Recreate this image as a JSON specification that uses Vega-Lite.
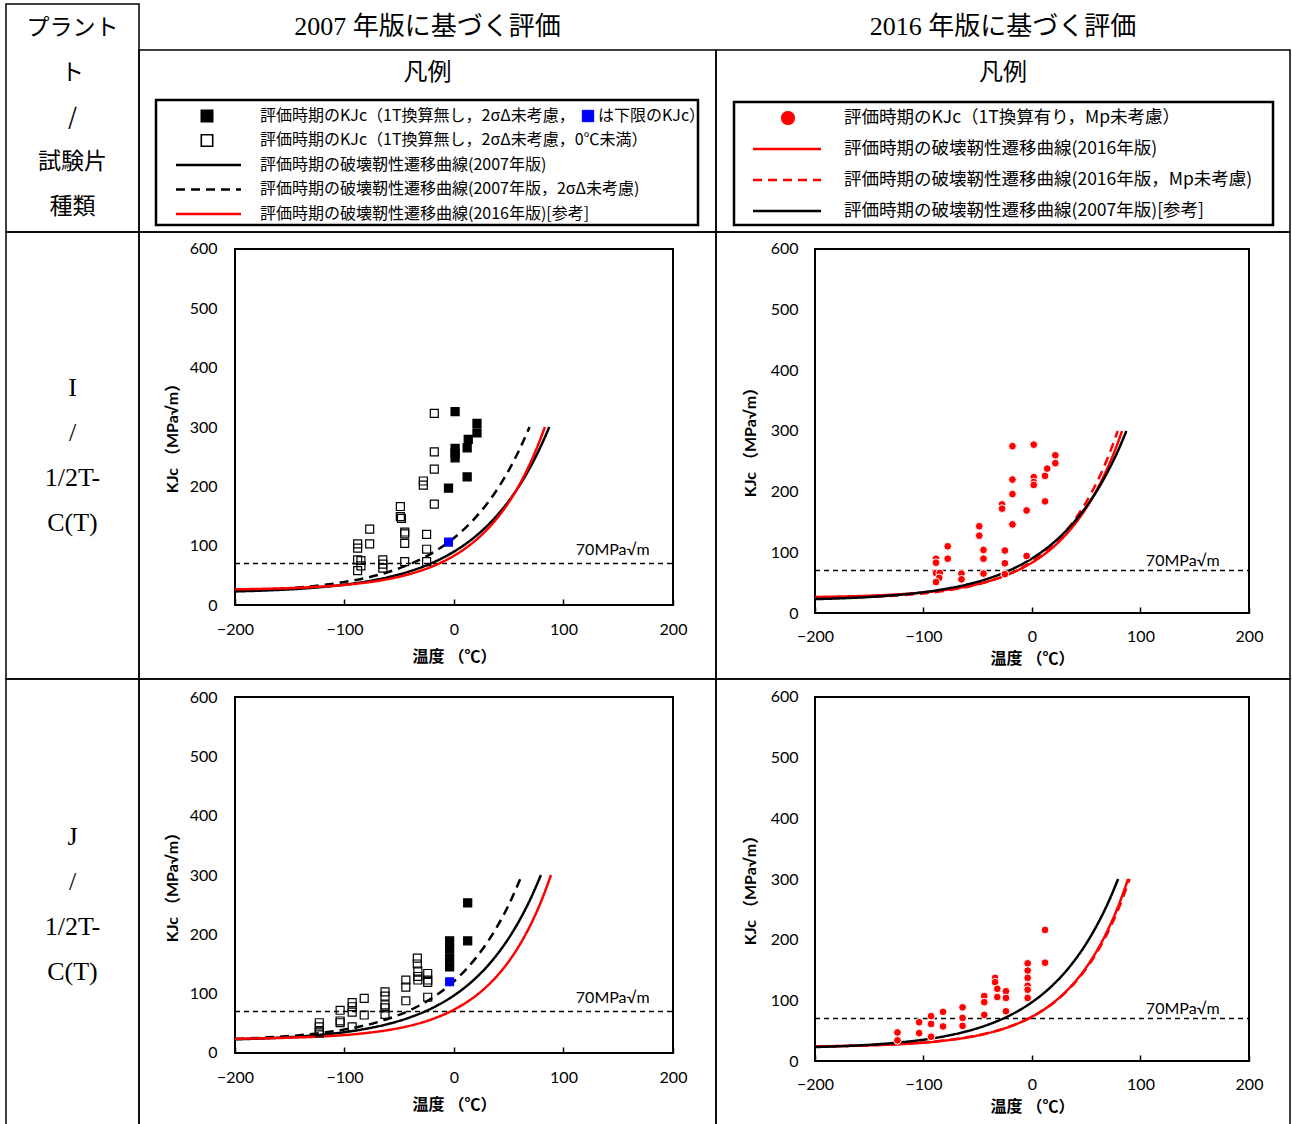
{
"$schema":"https://vega.github.io/schema/vega-lite/v6.json",
"background":"white",
"padding":{"left":5,"top":3,"right":0,"bottom":0},
"spacing":0,
"bounds":"flush",
"columns":3,
"config":{
 "view":{"stroke":"black","strokeWidth":1.5},
 "legend":{"disable":true},
 "axis":{"grid":false,"domain":false,"labelFont":"Lato","labelFontSize":16,"labelColor":"black","titleFont":"Lato, Noto Sans CJK JP","titleFontSize":16,"titleFontWeight":"bold","titleColor":"black","tickColor":"black"},
 "text":{"color":"black"}
},
"datasets":{
 "curves":[
  {"c":"I07","s":"2007","T":-200,"K":22.9},{"c":"I07","s":"2007","T":-175,"K":24.3},{"c":"I07","s":"2007","T":-150,"K":26.4},{"c":"I07","s":"2007","T":-125,"K":29.6},{"c":"I07","s":"2007","T":-100,"K":34.2},{"c":"I07","s":"2007","T":-80,"K":39.6},{"c":"I07","s":"2007","T":-60,"K":46.9},{"c":"I07","s":"2007","T":-40,"K":57.0},{"c":"I07","s":"2007","T":-20,"K":70.9},{"c":"I07","s":"2007","T":0,"K":90.0},{"c":"I07","s":"2007","T":10,"K":102.1},{"c":"I07","s":"2007","T":20,"K":116.3},{"c":"I07","s":"2007","T":30,"K":132.9},{"c":"I07","s":"2007","T":40,"K":152.4},{"c":"I07","s":"2007","T":50,"K":175.2},{"c":"I07","s":"2007","T":60,"K":202.0},{"c":"I07","s":"2007","T":70,"K":233.5},{"c":"I07","s":"2007","T":80,"K":270.4},{"c":"I07","s":"2007","T":87,"K":300},
  {"c":"I07d","s":"2007_no2s","T":-200,"K":23.8},{"c":"I07d","s":"2007_no2s","T":-175,"K":25.7},{"c":"I07d","s":"2007_no2s","T":-150,"K":28.4},{"c":"I07d","s":"2007_no2s","T":-125,"K":32.6},{"c":"I07d","s":"2007_no2s","T":-100,"K":38.8},{"c":"I07d","s":"2007_no2s","T":-80,"K":45.9},{"c":"I07d","s":"2007_no2s","T":-60,"K":55.6},{"c":"I07d","s":"2007_no2s","T":-40,"K":69.0},{"c":"I07d","s":"2007_no2s","T":-20,"K":87.5},{"c":"I07d","s":"2007_no2s","T":0,"K":113},{"c":"I07d","s":"2007_no2s","T":10,"K":129.1},{"c":"I07d","s":"2007_no2s","T":20,"K":148.1},{"c":"I07d","s":"2007_no2s","T":30,"K":170.3},{"c":"I07d","s":"2007_no2s","T":40,"K":196.4},{"c":"I07d","s":"2007_no2s","T":50,"K":227.0},{"c":"I07d","s":"2007_no2s","T":60,"K":262.9},{"c":"I07d","s":"2007_no2s","T":69,"K":300},
  {"c":"I16","s":"2016","T":-200,"K":26.4},{"c":"I16","s":"2016","T":-175,"K":27.2},{"c":"I16","s":"2016","T":-150,"K":28.5},{"c":"I16","s":"2016","T":-125,"K":30.6},{"c":"I16","s":"2016","T":-100,"K":33.9},{"c":"I16","s":"2016","T":-80,"K":37.9},{"c":"I16","s":"2016","T":-60,"K":43.8},{"c":"I16","s":"2016","T":-40,"K":52.4},{"c":"I16","s":"2016","T":-20,"K":64.9},{"c":"I16","s":"2016","T":0,"K":83},{"c":"I16","s":"2016","T":10,"K":95.0},{"c":"I16","s":"2016","T":20,"K":109.4},{"c":"I16","s":"2016","T":30,"K":126.8},{"c":"I16","s":"2016","T":40,"K":147.8},{"c":"I16","s":"2016","T":50,"K":173.1},{"c":"I16","s":"2016","T":60,"K":203.7},{"c":"I16","s":"2016","T":70,"K":240.5},{"c":"I16","s":"2016","T":80,"K":284.9},{"c":"I16","s":"2016","T":83,"K":300},
  {"c":"I16d","s":"2016_noMp","T":-200,"K":24.4},{"c":"I16d","s":"2016_noMp","T":-175,"K":25.3},{"c":"I16d","s":"2016_noMp","T":-150,"K":26.6},{"c":"I16d","s":"2016_noMp","T":-125,"K":28.8},{"c":"I16d","s":"2016_noMp","T":-100,"K":32.3},{"c":"I16d","s":"2016_noMp","T":-80,"K":36.6},{"c":"I16d","s":"2016_noMp","T":-60,"K":42.9},{"c":"I16d","s":"2016_noMp","T":-40,"K":52.1},{"c":"I16d","s":"2016_noMp","T":-20,"K":65.4},{"c":"I16d","s":"2016_noMp","T":0,"K":85},{"c":"I16d","s":"2016_noMp","T":10,"K":97.9},{"c":"I16d","s":"2016_noMp","T":20,"K":113.6},{"c":"I16d","s":"2016_noMp","T":30,"K":132.5},{"c":"I16d","s":"2016_noMp","T":40,"K":155.3},{"c":"I16d","s":"2016_noMp","T":50,"K":182.9},{"c":"I16d","s":"2016_noMp","T":60,"K":216.3},{"c":"I16d","s":"2016_noMp","T":70,"K":256.6},{"c":"I16d","s":"2016_noMp","T":79,"K":300},
  {"c":"J07","s":"2007","T":-200,"K":23.0},{"c":"J07","s":"2007","T":-175,"K":24.5},{"c":"J07","s":"2007","T":-150,"K":26.7},{"c":"J07","s":"2007","T":-125,"K":30.1},{"c":"J07","s":"2007","T":-100,"K":35.1},{"c":"J07","s":"2007","T":-80,"K":41.0},{"c":"J07","s":"2007","T":-60,"K":49.0},{"c":"J07","s":"2007","T":-40,"K":60.2},{"c":"J07","s":"2007","T":-20,"K":75.6},{"c":"J07","s":"2007","T":0,"K":97},{"c":"J07","s":"2007","T":10,"K":110.6},{"c":"J07","s":"2007","T":20,"K":126.6},{"c":"J07","s":"2007","T":30,"K":145.4},{"c":"J07","s":"2007","T":40,"K":167.6},{"c":"J07","s":"2007","T":50,"K":193.6},{"c":"J07","s":"2007","T":60,"K":224.3},{"c":"J07","s":"2007","T":70,"K":260.3},{"c":"J07","s":"2007","T":79.4,"K":300},
  {"c":"J07d","s":"2007_no2s","T":-200,"K":23.8},{"c":"J07d","s":"2007_no2s","T":-175,"K":25.7},{"c":"J07d","s":"2007_no2s","T":-150,"K":28.6},{"c":"J07d","s":"2007_no2s","T":-125,"K":32.9},{"c":"J07d","s":"2007_no2s","T":-100,"K":39.5},{"c":"J07d","s":"2007_no2s","T":-80,"K":47.1},{"c":"J07d","s":"2007_no2s","T":-60,"K":57.7},{"c":"J07d","s":"2007_no2s","T":-40,"K":72.3},{"c":"J07d","s":"2007_no2s","T":-20,"K":92.7},{"c":"J07d","s":"2007_no2s","T":0,"K":121},{"c":"J07d","s":"2007_no2s","T":10,"K":139},{"c":"J07d","s":"2007_no2s","T":20,"K":160.3},{"c":"J07d","s":"2007_no2s","T":30,"K":185.4},{"c":"J07d","s":"2007_no2s","T":40,"K":214.9},{"c":"J07d","s":"2007_no2s","T":50,"K":249.8},{"c":"J07d","s":"2007_no2s","T":62,"K":300},
  {"c":"J16","s":"2016","T":-200,"K":24.0},{"c":"J16","s":"2016","T":-175,"K":24.7},{"c":"J16","s":"2016","T":-150,"K":25.8},{"c":"J16","s":"2016","T":-125,"K":27.5},{"c":"J16","s":"2016","T":-100,"K":30.2},{"c":"J16","s":"2016","T":-80,"K":33.7},{"c":"J16","s":"2016","T":-60,"K":38.7},{"c":"J16","s":"2016","T":-40,"K":46.1},{"c":"J16","s":"2016","T":-20,"K":57.0},{"c":"J16","s":"2016","T":0,"K":73},{"c":"J16","s":"2016","T":10,"K":83.7},{"c":"J16","s":"2016","T":20,"K":96.6},{"c":"J16","s":"2016","T":30,"K":112.3},{"c":"J16","s":"2016","T":40,"K":131.3},{"c":"J16","s":"2016","T":50,"K":154.4},{"c":"J16","s":"2016","T":60,"K":182.4},{"c":"J16","s":"2016","T":70,"K":216.3},{"c":"J16","s":"2016","T":80,"K":257.5},{"c":"J16","s":"2016","T":88.6,"K":300},
  {"c":"J16d","s":"2016_noMp","T":-200,"K":24.1},{"c":"J16d","s":"2016_noMp","T":-150,"K":25.9},{"c":"J16d","s":"2016_noMp","T":-100,"K":30.5},{"c":"J16d","s":"2016_noMp","T":-80,"K":33.9},{"c":"J16d","s":"2016_noMp","T":-60,"K":39.0},{"c":"J16d","s":"2016_noMp","T":-40,"K":46.4},{"c":"J16d","s":"2016_noMp","T":-20,"K":57.2},{"c":"J16d","s":"2016_noMp","T":0,"K":73},{"c":"J16d","s":"2016_noMp","T":10,"K":83.5},{"c":"J16d","s":"2016_noMp","T":20,"K":96.1},{"c":"J16d","s":"2016_noMp","T":30,"K":111.5},{"c":"J16d","s":"2016_noMp","T":40,"K":130},{"c":"J16d","s":"2016_noMp","T":50,"K":152.4},{"c":"J16d","s":"2016_noMp","T":60,"K":179.5},{"c":"J16d","s":"2016_noMp","T":70,"K":212.3},{"c":"J16d","s":"2016_noMp","T":80,"K":252},{"c":"J16d","s":"2016_noMp","T":90,"K":300}
 ],
 "points":[
  {"p":"IL","k":"hollow","T":-88,"K":103},{"p":"IL","k":"hollow","T":-88,"K":96},{"p":"IL","k":"hollow","T":-88,"K":76},{"p":"IL","k":"hollow","T":-85,"K":75},{"p":"IL","k":"hollow","T":-85,"K":66},{"p":"IL","k":"hollow","T":-88,"K":58},{"p":"IL","k":"hollow","T":-77,"K":128},{"p":"IL","k":"hollow","T":-77,"K":103},{"p":"IL","k":"hollow","T":-65,"K":76},{"p":"IL","k":"hollow","T":-65,"K":69},{"p":"IL","k":"hollow","T":-65,"K":62},{"p":"IL","k":"hollow","T":-49,"K":166},{"p":"IL","k":"hollow","T":-49,"K":149},{"p":"IL","k":"hollow","T":-48,"K":146},{"p":"IL","k":"hollow","T":-45,"K":123},{"p":"IL","k":"hollow","T":-45,"K":120},{"p":"IL","k":"hollow","T":-45,"K":104},{"p":"IL","k":"hollow","T":-45,"K":73},{"p":"IL","k":"hollow","T":-28,"K":209},{"p":"IL","k":"hollow","T":-28,"K":202},{"p":"IL","k":"hollow","T":-18,"K":323},{"p":"IL","k":"hollow","T":-18,"K":258},{"p":"IL","k":"hollow","T":-18,"K":229},{"p":"IL","k":"hollow","T":-18,"K":170},{"p":"IL","k":"hollow","T":-25,"K":119},{"p":"IL","k":"hollow","T":-25,"K":94},{"p":"IL","k":"hollow","T":-25,"K":73},
  {"p":"IL","k":"filled","T":1,"K":326},{"p":"IL","k":"filled","T":1,"K":264},{"p":"IL","k":"filled","T":1,"K":256},{"p":"IL","k":"filled","T":1,"K":248},{"p":"IL","k":"filled","T":-5,"K":197},{"p":"IL","k":"filled","T":12,"K":265},{"p":"IL","k":"filled","T":13,"K":279},{"p":"IL","k":"filled","T":12,"K":216},{"p":"IL","k":"filled","T":21,"K":306},{"p":"IL","k":"filled","T":21,"K":290},
  {"p":"IL","k":"blue","T":-5,"K":106},
  {"p":"IR","k":"red","T":-88.5,"K":89.5},{"p":"IR","k":"red","T":-88.5,"K":83},{"p":"IR","k":"red","T":-88.5,"K":66},{"p":"IR","k":"red","T":-85,"K":66},{"p":"IR","k":"red","T":-85.5,"K":58},{"p":"IR","k":"red","T":-88.5,"K":51},{"p":"IR","k":"red","T":-77.7,"K":110},{"p":"IR","k":"red","T":-77.7,"K":89.5},{"p":"IR","k":"red","T":-65,"K":65},{"p":"IR","k":"red","T":-65,"K":55.5},{"p":"IR","k":"red","T":-48.6,"K":143},{"p":"IR","k":"red","T":-48.6,"K":127.5},{"p":"IR","k":"red","T":-44.7,"K":104},{"p":"IR","k":"red","T":-44.7,"K":89.5},{"p":"IR","k":"red","T":-44.7,"K":65},{"p":"IR","k":"red","T":-27.6,"K":179},{"p":"IR","k":"red","T":-27.6,"K":172},{"p":"IR","k":"red","T":-25,"K":103},{"p":"IR","k":"red","T":-25,"K":82},{"p":"IR","k":"red","T":-25,"K":64},{"p":"IR","k":"red","T":-18,"K":275},{"p":"IR","k":"red","T":-18,"K":220},{"p":"IR","k":"red","T":-18,"K":196},{"p":"IR","k":"red","T":-18,"K":146},{"p":"IR","k":"red","T":-5,"K":169},{"p":"IR","k":"red","T":-5,"K":94},{"p":"IR","k":"red","T":1.6,"K":277.5},{"p":"IR","k":"red","T":1.6,"K":224},{"p":"IR","k":"red","T":1.6,"K":216},{"p":"IR","k":"red","T":1.6,"K":211},{"p":"IR","k":"red","T":12,"K":226},{"p":"IR","k":"red","T":14,"K":238},{"p":"IR","k":"red","T":12,"K":184},{"p":"IR","k":"red","T":21.5,"K":260},{"p":"IR","k":"red","T":21.5,"K":247},
  {"p":"JL","k":"hollow","T":-123,"K":51},{"p":"JL","k":"hollow","T":-123,"K":44},{"p":"JL","k":"hollow","T":-123,"K":37},{"p":"JL","k":"hollow","T":-123,"K":34},{"p":"JL","k":"hollow","T":-104,"K":72},{"p":"JL","k":"hollow","T":-104,"K":54},{"p":"JL","k":"hollow","T":-104,"K":51},{"p":"JL","k":"hollow","T":-93,"K":85},{"p":"JL","k":"hollow","T":-93,"K":78},{"p":"JL","k":"hollow","T":-93,"K":69},{"p":"JL","k":"hollow","T":-93,"K":44},{"p":"JL","k":"hollow","T":-82,"K":92},{"p":"JL","k":"hollow","T":-82,"K":64},{"p":"JL","k":"hollow","T":-63,"K":103},{"p":"JL","k":"hollow","T":-63,"K":96},{"p":"JL","k":"hollow","T":-63,"K":81},{"p":"JL","k":"hollow","T":-63,"K":76},{"p":"JL","k":"hollow","T":-63,"K":65},{"p":"JL","k":"hollow","T":-44,"K":123},{"p":"JL","k":"hollow","T":-44,"K":111},{"p":"JL","k":"hollow","T":-44,"K":88},{"p":"JL","k":"hollow","T":-33.5,"K":160},{"p":"JL","k":"hollow","T":-33.5,"K":150},{"p":"JL","k":"hollow","T":-33,"K":138},{"p":"JL","k":"hollow","T":-33,"K":129},{"p":"JL","k":"hollow","T":-33,"K":123},{"p":"JL","k":"hollow","T":-24,"K":134},{"p":"JL","k":"hollow","T":-24,"K":123},{"p":"JL","k":"hollow","T":-24,"K":119},{"p":"JL","k":"hollow","T":-24,"K":94},
  {"p":"JL","k":"filled","T":-4,"K":189},{"p":"JL","k":"filled","T":-4,"K":175},{"p":"JL","k":"filled","T":-4,"K":160},{"p":"JL","k":"filled","T":-4,"K":145},{"p":"JL","k":"filled","T":12.5,"K":253},{"p":"JL","k":"filled","T":12.5,"K":189},
  {"p":"JL","k":"blue","T":-4,"K":120},
  {"p":"JR","k":"red","T":-124,"K":47},{"p":"JR","k":"red","T":-124,"K":34},{"p":"JR","k":"red","T":-104,"K":64},{"p":"JR","k":"red","T":-104,"K":46},{"p":"JR","k":"red","T":-93,"K":74},{"p":"JR","k":"red","T":-93,"K":61},{"p":"JR","k":"red","T":-93,"K":40},{"p":"JR","k":"red","T":-82,"K":81},{"p":"JR","k":"red","T":-82,"K":57},{"p":"JR","k":"red","T":-64,"K":88.5},{"p":"JR","k":"red","T":-64,"K":71},{"p":"JR","k":"red","T":-64,"K":58},{"p":"JR","k":"red","T":-44,"K":107},{"p":"JR","k":"red","T":-44,"K":97},{"p":"JR","k":"red","T":-44,"K":76},{"p":"JR","k":"red","T":-34,"K":137},{"p":"JR","k":"red","T":-34,"K":130},{"p":"JR","k":"red","T":-32,"K":119},{"p":"JR","k":"red","T":-32,"K":105.5},{"p":"JR","k":"red","T":-24,"K":115},{"p":"JR","k":"red","T":-24,"K":104},{"p":"JR","k":"red","T":-24,"K":82},{"p":"JR","k":"red","T":-4,"K":161},{"p":"JR","k":"red","T":-4,"K":149},{"p":"JR","k":"red","T":-4,"K":137},{"p":"JR","k":"red","T":-4,"K":124},{"p":"JR","k":"red","T":-4,"K":117.5},{"p":"JR","k":"red","T":-4,"K":104},{"p":"JR","k":"red","T":12,"K":216},{"p":"JR","k":"red","T":12,"K":162}
 ],
 "legL":[
  {"row":1,"k":"filled","label":"評価時期のKJc（1T換算無し，2σΔ未考慮，"},
  {"row":2,"k":"hollow","label":"評価時期のKJc（1T換算無し，2σΔ未考慮，0℃未満）"},
  {"row":3,"k":"2007","label":"評価時期の破壊靭性遷移曲線(2007年版)"},
  {"row":4,"k":"2007_no2s","label":"評価時期の破壊靭性遷移曲線(2007年版，2σΔ未考慮)"},
  {"row":5,"k":"2016","label":"評価時期の破壊靭性遷移曲線(2016年版)[参考]"}
 ],
 "legR":[
  {"row":1,"k":"red","label":"評価時期のKJc（1T換算有り，Mp未考慮）"},
  {"row":2,"k":"2016","label":"評価時期の破壊靭性遷移曲線(2016年版)"},
  {"row":3,"k":"2016_noMp","label":"評価時期の破壊靭性遷移曲線(2016年版，Mp未考慮)"},
  {"row":4,"k":"2007","label":"評価時期の破壊靭性遷移曲線(2007年版)[参考]"}
 ]
},
"concat":[
  {"width":133,"height":46,"view":{"stroke":null},
   "layer":[
    {"data":{"values":[{}]},"mark":{"type":"rect","fill":"white","fillOpacity":0,"stroke":"black","strokeWidth":1.5},
     "encoding":{"x":{"datum":0,"type":"quantitative","scale":{"domain":[0,1],"nice":false,"zero":false},"axis":null},"x2":{"datum":1},
      "y":{"datum":0.4637,"type":"quantitative","scale":{"domain":[0.4637,1.4916],"reverse":true,"nice":false,"zero":false},"axis":null},"y2":{"datum":5.5587}}},
    {"data":{"values":[{"n":1,"t":"プラント"},{"n":2,"t":"ト"},{"n":3,"t":"/"},{"n":4,"t":"試験片"},{"n":5,"t":"種類"}]},
     "mark":{"type":"text","font":"Noto Sans CJK JP","fontSize":23},
     "encoding":{"y":{"field":"n","type":"quantitative"},"text":{"field":"t"}}}
   ]},
  {"width":577,"height":46,
   "data":{"values":[{"t":"2007 年版に基づく評価"}]},
   "mark":{"type":"text","font":"Liberation Serif, Noto Sans CJK JP","fontSize":26},
   "encoding":{"text":{"field":"t"}}},
  {"width":574,"height":46,
   "data":{"values":[{"t":"2016 年版に基づく評価"}]},
   "mark":{"type":"text","font":"Liberation Serif, Noto Sans CJK JP","fontSize":26},
   "encoding":{"text":{"field":"t"}}},
  {"width":133,"height":182,"view":{"stroke":null},
   "data":{"values":[{"t":""}]},"mark":{"type":"text"},"encoding":{"text":{"field":"t"}}},
  {"width":577,"height":182,
   "layer":[
    {"data":{"values":[{"t":"凡例"}]},"mark":{"type":"text","font":"Noto Sans CJK JP","fontSize":24},
     "encoding":{"text":{"field":"t"},"y":{"datum":-0.755,"type":"quantitative","scale":{"domain":[-1.694,5.735],"reverse":true,"nice":false,"zero":false},"axis":null}}},
    {"data":{"values":[{}]},"mark":{"type":"rect","fill":"white","fillOpacity":0,"stroke":"black","strokeWidth":2.5},
     "encoding":{"x":{"datum":17,"type":"quantitative","scale":{"domain":[0,577],"nice":false,"zero":false},"axis":null},"x2":{"datum":559},"y":{"datum":0.347,"type":"quantitative"},"y2":{"datum":5.449}}},
    {"data":{"name":"legL"},"transform":[{"filter":{"field":"k","oneOf":["2007","2007_no2s","2016","2016_noMp"]}}],
     "mark":{"type":"rule","strokeWidth":2.5},
     "encoding":{"x":{"datum":37,"type":"quantitative"},"x2":{"datum":102},"y":{"field":"row","type":"quantitative"},
      "color":{"field":"k","type":"nominal","scale":{"domain":["2007","2007_no2s","2016","2016_noMp"],"range":["black","black","#ff0000","#ff0000"]}},
      "strokeDash":{"field":"k","type":"nominal","scale":{"domain":["2007","2007_no2s","2016","2016_noMp"],"range":[[1,0],[9,6],[1,0],[9,6]]}}}},
    {"data":{"name":"legL"},"transform":[{"filter":{"field":"k","oneOf":["filled","hollow","blue","red"]}}],
     "mark":{"type":"point","filled":true,"strokeWidth":1.6,"opacity":1,"size":130},
     "encoding":{"x":{"datum":68,"type":"quantitative"},"y":{"field":"row","type":"quantitative"},
      "shape":{"field":"k","type":"nominal","scale":{"domain":["filled","hollow","blue","red"],"range":["square","square","square","circle"]}},
      "fill":{"field":"k","type":"nominal","scale":{"domain":["filled","hollow","blue","red"],"range":["black","rgba(255,255,255,0)","#0000ff","#ff0000"]}},
      "stroke":{"field":"k","type":"nominal","scale":{"domain":["filled","hollow","blue","red"],"range":["black","black","#0000ff","white"]}}}},
    {"data":{"values":[{"row":1,"k":"blue"}]},
     "mark":{"type":"point","filled":true,"strokeWidth":1,"opacity":1,"size":130},
     "encoding":{"x":{"datum":449,"type":"quantitative"},"y":{"field":"row","type":"quantitative"},
      "shape":{"field":"k","type":"nominal","scale":{"domain":["filled","hollow","blue","red"],"range":["square","square","square","circle"]}},
      "fill":{"field":"k","type":"nominal","scale":{"domain":["filled","hollow","blue","red"],"range":["black","rgba(255,255,255,0)","#0000ff","#ff0000"]}},
      "stroke":{"field":"k","type":"nominal","scale":{"domain":["filled","hollow","blue","red"],"range":["black","black","#0000ff","white"]}}}},
    {"data":{"name":"legL"},"mark":{"type":"text","align":"left","font":"Noto Sans CJK JP","fontSize":16},
     "encoding":{"x":{"datum":121,"type":"quantitative"},"y":{"field":"row","type":"quantitative"},"text":{"field":"label"}}},
    {"data":{"values":[{"row":1,"label":"は下限のKJc）"}]},"mark":{"type":"text","align":"left","font":"Noto Sans CJK JP","fontSize":16},
     "encoding":{"x":{"datum":459,"type":"quantitative"},"y":{"field":"row","type":"quantitative"},"text":{"field":"label"}}}
   ]},
  {"width":574,"height":182,
   "layer":[
    {"data":{"values":[{"t":"凡例"}]},"mark":{"type":"text","font":"Noto Sans CJK JP","fontSize":24},
     "encoding":{"text":{"field":"t"},"y":{"datum":-0.452,"type":"quantitative","scale":{"domain":[-1.194,4.677],"reverse":true,"nice":false,"zero":false},"axis":null}}},
    {"data":{"values":[{}]},"mark":{"type":"rect","fill":"white","fillOpacity":0,"stroke":"black","strokeWidth":2.5},
     "encoding":{"x":{"datum":18,"type":"quantitative","scale":{"domain":[0,574],"nice":false,"zero":false},"axis":null},"x2":{"datum":557},"y":{"datum":0.484,"type":"quantitative"},"y2":{"datum":4.452}}},
    {"data":{"name":"legR"},"transform":[{"filter":{"field":"k","oneOf":["2007","2007_no2s","2016","2016_noMp"]}}],
     "mark":{"type":"rule","strokeWidth":2.5},
     "encoding":{"x":{"datum":37,"type":"quantitative"},"x2":{"datum":105},"y":{"field":"row","type":"quantitative"},
      "color":{"field":"k","type":"nominal","scale":{"domain":["2007","2007_no2s","2016","2016_noMp"],"range":["black","black","#ff0000","#ff0000"]}},
      "strokeDash":{"field":"k","type":"nominal","scale":{"domain":["2007","2007_no2s","2016","2016_noMp"],"range":[[1,0],[9,6],[1,0],[9,6]]}}}},
    {"data":{"name":"legR"},"transform":[{"filter":{"field":"k","oneOf":["filled","hollow","blue","red"]}}],
     "mark":{"type":"point","filled":true,"strokeWidth":1,"opacity":1,"size":230},
     "encoding":{"x":{"datum":72,"type":"quantitative"},"y":{"field":"row","type":"quantitative"},
      "shape":{"field":"k","type":"nominal","scale":{"domain":["filled","hollow","blue","red"],"range":["square","square","square","circle"]}},
      "fill":{"field":"k","type":"nominal","scale":{"domain":["filled","hollow","blue","red"],"range":["black","rgba(255,255,255,0)","#0000ff","#ff0000"]}},
      "stroke":{"field":"k","type":"nominal","scale":{"domain":["filled","hollow","blue","red"],"range":["black","black","#0000ff","white"]}}}},
    {"data":{"name":"legR"},"mark":{"type":"text","align":"left","font":"Noto Sans CJK JP","fontSize":17.5},
     "encoding":{"x":{"datum":128,"type":"quantitative"},"y":{"field":"row","type":"quantitative"},"text":{"field":"label"}}}
   ]},
  {"width":133,"height":447,
   "data":{"values":[{"n":1,"t":"I"},{"n":2,"t":"/"},{"n":3,"t":"1/2T-"},{"n":4,"t":"C(T)"}]},
   "mark":{"type":"text","font":"Liberation Serif","fontSize":26},
   "encoding":{"y":{"field":"n","type":"quantitative","scale":{"domain":[-2.467,7.467],"reverse":true,"nice":false,"zero":false},"axis":null},"text":{"field":"t"}}},
  {"width":577,"height":447,
   "layer":[
    {"data":{"values":[{}]},"mark":{"type":"rect","fill":"white","fillOpacity":0,"stroke":"black","strokeWidth":2},
     "encoding":{
      "x":{"datum":-200,"type":"quantitative","scale":{"domain":[-287.67,239.27],"nice":false,"zero":false},"axis":{"values":[-200,-100,0,100,200],"offset":-74,"title":"温度 （℃）","tickSize":-6,"tickWidth":1.5,"labelPadding":22,"titleX":315,"titleY":51,"titleBaseline":"middle"}},
      "x2":{"datum":200},
      "y":{"datum":0,"type":"quantitative","scale":{"domain":[-124.7,628.65],"nice":false,"zero":false},"axis":{"values":[0,100,200,300,400,500,600],"offset":-96,"title":"KJc （MPa√m）","ticks":false,"labelPadding":18,"titleX":-63,"titleY":202,"titleBaseline":"middle"}},
      "y2":{"datum":600}}},
    {"data":{"values":[{}]},"mark":{"type":"rule","strokeDash":[5,4],"strokeWidth":1.5,"color":"black"},
     "encoding":{"x":{"datum":-200,"type":"quantitative"},"x2":{"datum":200},"y":{"datum":70,"type":"quantitative"}}},
    {"data":{"values":[{"t":"70MPa√m"}]},"mark":{"type":"text","font":"Lato","fontSize":16},
     "encoding":{"x":{"datum":145,"type":"quantitative"},"y":{"datum":93,"type":"quantitative"},"text":{"field":"t"}}},
    {"data":{"name":"curves"},"transform":[{"filter":{"field":"c","oneOf":["I07","I07d"]}}],
     "mark":{"type":"line","strokeWidth":2.5,"interpolate":"monotone"},
     "encoding":{"x":{"field":"T","type":"quantitative","title":"温度 （℃）"},"y":{"field":"K","type":"quantitative","title":"KJc （MPa√m）"},"detail":{"field":"c"},
      "color":{"field":"s","type":"nominal","scale":{"domain":["2007","2007_no2s","2016","2016_noMp"],"range":["black","black","#ff0000","#ff0000"]}},
      "strokeDash":{"field":"s","type":"nominal","scale":{"domain":["2007","2007_no2s","2016","2016_noMp"],"range":[[1,0],[9,6],[1,0],[9,6]]}}}},
    {"data":{"name":"curves"},"transform":[{"filter":{"field":"c","oneOf":["I16"]}}],
     "mark":{"type":"line","strokeWidth":2.5,"interpolate":"monotone"},
     "encoding":{"x":{"field":"T","type":"quantitative","title":"温度 （℃）"},"y":{"field":"K","type":"quantitative","title":"KJc （MPa√m）"},"detail":{"field":"c"},
      "color":{"field":"s","type":"nominal","scale":{"domain":["2007","2007_no2s","2016","2016_noMp"],"range":["black","black","#ff0000","#ff0000"]}},
      "strokeDash":{"field":"s","type":"nominal","scale":{"domain":["2007","2007_no2s","2016","2016_noMp"],"range":[[1,0],[9,6],[1,0],[9,6]]}}}},
    {"data":{"name":"points"},"transform":[{"filter":{"field":"p","equal":"IL"}}],
     "mark":{"type":"point","filled":true,"strokeWidth":1.2,"opacity":1},
     "encoding":{"x":{"field":"T","type":"quantitative","title":"温度 （℃）"},"y":{"field":"K","type":"quantitative","title":"KJc （MPa√m）"},
      "shape":{"field":"k","type":"nominal","scale":{"domain":["filled","hollow","blue","red"],"range":["square","square","square","circle"]}},
      "fill":{"field":"k","type":"nominal","scale":{"domain":["filled","hollow","blue","red"],"range":["black","rgba(255,255,255,0)","#0000ff","#ff0000"]}},
      "stroke":{"field":"k","type":"nominal","scale":{"domain":["filled","hollow","blue","red"],"range":["black","black","#0000ff","white"]}},
      "size":{"field":"k","type":"ordinal","scale":{"domain":["filled","hollow","blue","red"],"range":[65,60,100,80]}}}}
   ]},
  {"width":574,"height":447,
   "layer":[
    {"data":{"values":[{}]},"mark":{"type":"rect","fill":"white","fillOpacity":0,"stroke":"black","strokeWidth":2},
     "encoding":{
      "x":{"datum":-200,"type":"quantitative","scale":{"domain":[-291.24,237.79],"nice":false,"zero":false},"axis":{"values":[-200,-100,0,100,200],"offset":-66,"title":"温度 （℃）","tickSize":-6,"tickWidth":1.5,"labelPadding":21,"titleX":316,"titleY":45,"titleBaseline":"middle"}},
      "x2":{"datum":200},
      "y":{"datum":0,"type":"quantitative","scale":{"domain":[-108.79,628.02],"nice":false,"zero":false},"axis":{"values":[0,100,200,300,400,500,600],"offset":-99,"title":"KJc （MPa√m）","ticks":false,"labelPadding":17,"titleX":-65,"titleY":206,"titleBaseline":"middle"}},
      "y2":{"datum":600}}},
    {"data":{"values":[{}]},"mark":{"type":"rule","strokeDash":[5,4],"strokeWidth":1.5,"color":"black"},
     "encoding":{"x":{"datum":-200,"type":"quantitative"},"x2":{"datum":200},"y":{"datum":70,"type":"quantitative"}}},
    {"data":{"values":[{"t":"70MPa√m"}]},"mark":{"type":"text","font":"Lato","fontSize":16},
     "encoding":{"x":{"datum":139,"type":"quantitative"},"y":{"datum":86,"type":"quantitative"},"text":{"field":"t"}}},
    {"data":{"name":"curves"},"transform":[{"filter":{"field":"c","oneOf":["I16","I16d"]}}],
     "mark":{"type":"line","strokeWidth":2.5,"interpolate":"monotone"},
     "encoding":{"x":{"field":"T","type":"quantitative","title":"温度 （℃）"},"y":{"field":"K","type":"quantitative","title":"KJc （MPa√m）"},"detail":{"field":"c"},
      "color":{"field":"s","type":"nominal","scale":{"domain":["2007","2007_no2s","2016","2016_noMp"],"range":["black","black","#ff0000","#ff0000"]}},
      "strokeDash":{"field":"s","type":"nominal","scale":{"domain":["2007","2007_no2s","2016","2016_noMp"],"range":[[1,0],[9,6],[1,0],[9,6]]}}}},
    {"data":{"name":"curves"},"transform":[{"filter":{"field":"c","oneOf":["I07"]}}],
     "mark":{"type":"line","strokeWidth":2.5,"interpolate":"monotone"},
     "encoding":{"x":{"field":"T","type":"quantitative","title":"温度 （℃）"},"y":{"field":"K","type":"quantitative","title":"KJc （MPa√m）"},"detail":{"field":"c"},
      "color":{"field":"s","type":"nominal","scale":{"domain":["2007","2007_no2s","2016","2016_noMp"],"range":["black","black","#ff0000","#ff0000"]}},
      "strokeDash":{"field":"s","type":"nominal","scale":{"domain":["2007","2007_no2s","2016","2016_noMp"],"range":[[1,0],[9,6],[1,0],[9,6]]}}}},
    {"data":{"name":"points"},"transform":[{"filter":{"field":"p","equal":"IR"}}],
     "mark":{"type":"point","filled":true,"strokeWidth":1,"opacity":1},
     "encoding":{"x":{"field":"T","type":"quantitative","title":"温度 （℃）"},"y":{"field":"K","type":"quantitative","title":"KJc （MPa√m）"},
      "shape":{"field":"k","type":"nominal","scale":{"domain":["filled","hollow","blue","red"],"range":["square","square","square","circle"]}},
      "fill":{"field":"k","type":"nominal","scale":{"domain":["filled","hollow","blue","red"],"range":["black","rgba(255,255,255,0)","#0000ff","#ff0000"]}},
      "stroke":{"field":"k","type":"nominal","scale":{"domain":["filled","hollow","blue","red"],"range":["black","black","#0000ff","white"]}},
      "size":{"field":"k","type":"ordinal","scale":{"domain":["filled","hollow","blue","red"],"range":[65,60,100,80]}}}}
   ]},
  {"width":133,"height":446,
   "data":{"values":[{"n":1,"t":"J"},{"n":2,"t":"/"},{"n":3,"t":"1/2T-"},{"n":4,"t":"C(T)"}]},
   "mark":{"type":"text","font":"Liberation Serif","fontSize":26},
   "encoding":{"y":{"field":"n","type":"quantitative","scale":{"domain":[-2.511,7.4],"reverse":true,"nice":false,"zero":false},"axis":null},"text":{"field":"t"}}},
  {"width":577,"height":446,
   "layer":[
    {"data":{"values":[{}]},"mark":{"type":"rect","fill":"white","fillOpacity":0,"stroke":"black","strokeWidth":2},
     "encoding":{
      "x":{"datum":-200,"type":"quantitative","scale":{"domain":[-287.67,239.27],"nice":false,"zero":false},"axis":{"values":[-200,-100,0,100,200],"offset":-72,"title":"温度 （℃）","tickSize":-6,"tickWidth":1.5,"labelPadding":22,"titleX":315,"titleY":51,"titleBaseline":"middle"}},
      "x2":{"datum":200},
      "y":{"datum":0,"type":"quantitative","scale":{"domain":[-121.35,630.34],"nice":false,"zero":false},"axis":{"values":[0,100,200,300,400,500,600],"offset":-96,"title":"KJc （MPa√m）","ticks":false,"labelPadding":18,"titleX":-63,"titleY":204,"titleBaseline":"middle"}},
      "y2":{"datum":600}}},
    {"data":{"values":[{}]},"mark":{"type":"rule","strokeDash":[5,4],"strokeWidth":1.5,"color":"black"},
     "encoding":{"x":{"datum":-200,"type":"quantitative"},"x2":{"datum":200},"y":{"datum":70,"type":"quantitative"}}},
    {"data":{"values":[{"t":"70MPa√m"}]},"mark":{"type":"text","font":"Lato","fontSize":16},
     "encoding":{"x":{"datum":145,"type":"quantitative"},"y":{"datum":93,"type":"quantitative"},"text":{"field":"t"}}},
    {"data":{"name":"curves"},"transform":[{"filter":{"field":"c","oneOf":["J07","J07d"]}}],
     "mark":{"type":"line","strokeWidth":2.5,"interpolate":"monotone"},
     "encoding":{"x":{"field":"T","type":"quantitative","title":"温度 （℃）"},"y":{"field":"K","type":"quantitative","title":"KJc （MPa√m）"},"detail":{"field":"c"},
      "color":{"field":"s","type":"nominal","scale":{"domain":["2007","2007_no2s","2016","2016_noMp"],"range":["black","black","#ff0000","#ff0000"]}},
      "strokeDash":{"field":"s","type":"nominal","scale":{"domain":["2007","2007_no2s","2016","2016_noMp"],"range":[[1,0],[9,6],[1,0],[9,6]]}}}},
    {"data":{"name":"curves"},"transform":[{"filter":{"field":"c","oneOf":["J16"]}}],
     "mark":{"type":"line","strokeWidth":2.5,"interpolate":"monotone"},
     "encoding":{"x":{"field":"T","type":"quantitative","title":"温度 （℃）"},"y":{"field":"K","type":"quantitative","title":"KJc （MPa√m）"},"detail":{"field":"c"},
      "color":{"field":"s","type":"nominal","scale":{"domain":["2007","2007_no2s","2016","2016_noMp"],"range":["black","black","#ff0000","#ff0000"]}},
      "strokeDash":{"field":"s","type":"nominal","scale":{"domain":["2007","2007_no2s","2016","2016_noMp"],"range":[[1,0],[9,6],[1,0],[9,6]]}}}},
    {"data":{"name":"points"},"transform":[{"filter":{"field":"p","equal":"JL"}}],
     "mark":{"type":"point","filled":true,"strokeWidth":1.2,"opacity":1},
     "encoding":{"x":{"field":"T","type":"quantitative","title":"温度 （℃）"},"y":{"field":"K","type":"quantitative","title":"KJc （MPa√m）"},
      "shape":{"field":"k","type":"nominal","scale":{"domain":["filled","hollow","blue","red"],"range":["square","square","square","circle"]}},
      "fill":{"field":"k","type":"nominal","scale":{"domain":["filled","hollow","blue","red"],"range":["black","rgba(255,255,255,0)","#0000ff","#ff0000"]}},
      "stroke":{"field":"k","type":"nominal","scale":{"domain":["filled","hollow","blue","red"],"range":["black","black","#0000ff","white"]}},
      "size":{"field":"k","type":"ordinal","scale":{"domain":["filled","hollow","blue","red"],"range":[65,60,100,80]}}}}
   ]},
  {"width":574,"height":446,
   "layer":[
    {"data":{"values":[{}]},"mark":{"type":"rect","fill":"white","fillOpacity":0,"stroke":"black","strokeWidth":2},
     "encoding":{
      "x":{"datum":-200,"type":"quantitative","scale":{"domain":[-291.24,237.79],"nice":false,"zero":false},"axis":{"values":[-200,-100,0,100,200],"offset":-64,"title":"温度 （℃）","tickSize":-6,"tickWidth":1.5,"labelPadding":21,"titleX":316,"titleY":45,"titleBaseline":"middle"}},
      "x2":{"datum":200},
      "y":{"datum":0,"type":"quantitative","scale":{"domain":[-105.49,629.67],"nice":false,"zero":false},"axis":{"values":[0,100,200,300,400,500,600],"offset":-99,"title":"KJc （MPa√m）","ticks":false,"labelPadding":17,"titleX":-65,"titleY":207,"titleBaseline":"middle"}},
      "y2":{"datum":600}}},
    {"data":{"values":[{}]},"mark":{"type":"rule","strokeDash":[5,4],"strokeWidth":1.5,"color":"black"},
     "encoding":{"x":{"datum":-200,"type":"quantitative"},"x2":{"datum":200},"y":{"datum":70,"type":"quantitative"}}},
    {"data":{"values":[{"t":"70MPa√m"}]},"mark":{"type":"text","font":"Lato","fontSize":16},
     "encoding":{"x":{"datum":139,"type":"quantitative"},"y":{"datum":86,"type":"quantitative"},"text":{"field":"t"}}},
    {"data":{"name":"curves"},"transform":[{"filter":{"field":"c","oneOf":["J16","J16d"]}}],
     "mark":{"type":"line","strokeWidth":2.5,"interpolate":"monotone"},
     "encoding":{"x":{"field":"T","type":"quantitative","title":"温度 （℃）"},"y":{"field":"K","type":"quantitative","title":"KJc （MPa√m）"},"detail":{"field":"c"},
      "color":{"field":"s","type":"nominal","scale":{"domain":["2007","2007_no2s","2016","2016_noMp"],"range":["black","black","#ff0000","#ff0000"]}},
      "strokeDash":{"field":"s","type":"nominal","scale":{"domain":["2007","2007_no2s","2016","2016_noMp"],"range":[[1,0],[9,6],[1,0],[9,6]]}}}},
    {"data":{"name":"curves"},"transform":[{"filter":{"field":"c","oneOf":["J07"]}}],
     "mark":{"type":"line","strokeWidth":2.5,"interpolate":"monotone"},
     "encoding":{"x":{"field":"T","type":"quantitative","title":"温度 （℃）"},"y":{"field":"K","type":"quantitative","title":"KJc （MPa√m）"},"detail":{"field":"c"},
      "color":{"field":"s","type":"nominal","scale":{"domain":["2007","2007_no2s","2016","2016_noMp"],"range":["black","black","#ff0000","#ff0000"]}},
      "strokeDash":{"field":"s","type":"nominal","scale":{"domain":["2007","2007_no2s","2016","2016_noMp"],"range":[[1,0],[9,6],[1,0],[9,6]]}}}},
    {"data":{"name":"points"},"transform":[{"filter":{"field":"p","equal":"JR"}}],
     "mark":{"type":"point","filled":true,"strokeWidth":1,"opacity":1},
     "encoding":{"x":{"field":"T","type":"quantitative","title":"温度 （℃）"},"y":{"field":"K","type":"quantitative","title":"KJc （MPa√m）"},
      "shape":{"field":"k","type":"nominal","scale":{"domain":["filled","hollow","blue","red"],"range":["square","square","square","circle"]}},
      "fill":{"field":"k","type":"nominal","scale":{"domain":["filled","hollow","blue","red"],"range":["black","rgba(255,255,255,0)","#0000ff","#ff0000"]}},
      "stroke":{"field":"k","type":"nominal","scale":{"domain":["filled","hollow","blue","red"],"range":["black","black","#0000ff","white"]}},
      "size":{"field":"k","type":"ordinal","scale":{"domain":["filled","hollow","blue","red"],"range":[65,60,100,80]}}}}
   ]}
]
}
